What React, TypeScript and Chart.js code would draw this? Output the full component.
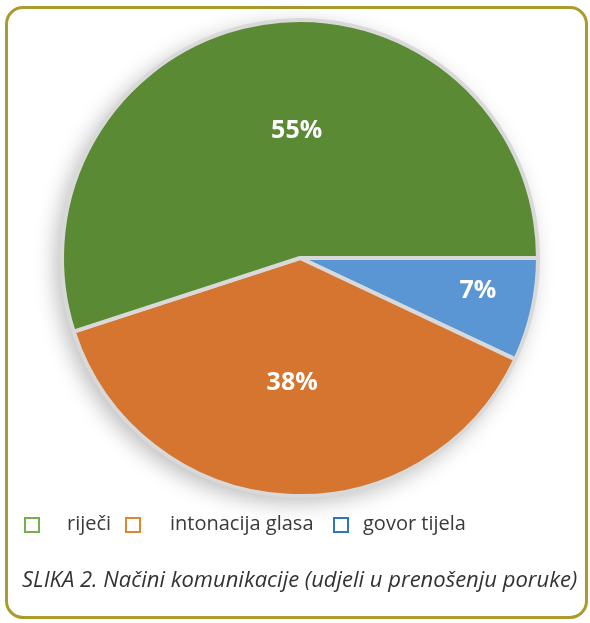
import React, { useEffect, useRef } from 'react';
import { Chart, registerables } from 'chart.js';

Chart.register(...registerables);

// Slices in clockwise order, starting at 3 o'clock
const categories = ['govor tijela', 'intonacija glasa', 'riječi'];
const shares = [7, 38, 55];
const sliceColors = ['#5b96d4', '#d5752f', '#5a8a34'];

// Legend order as shown in the figure
const legendLabels = ['riječi', 'intonacija glasa', 'govor tijela'];
const legendColors = ['#74b04a', '#e0862e', '#2f78b8'];

const caption = 'SLIKA 2. Načini komunikacije (udjeli u prenošenju poruke)';

// label placement: radial fraction and angular nudge (deg), per slice
const labelFrac = [0.76, 0.525, 0.535];
const labelNudge = [-2, 0, 7.5];

const shadowPlugin = {
  id: 'pieShadow',
  beforeDatasetsDraw(chart: any) {
    const meta = chart.getDatasetMeta(0);
    const a = meta.data[0];
    if (!a) return;
    const { x, y, outerRadius } = a.getProps(['x', 'y', 'outerRadius'], true);
    const ctx = chart.ctx;
    ctx.save();
    ctx.shadowColor = 'rgba(0,0,0,0.28)';
    ctx.shadowBlur = 22;
    ctx.shadowOffsetX = -6;
    ctx.shadowOffsetY = 6;
    ctx.fillStyle = '#d8d8d8';
    ctx.beginPath();
    ctx.arc(x, y, outerRadius, 0, Math.PI * 2);
    ctx.fill();
    ctx.restore();
  },
};

const labelPlugin = {
  id: 'sliceLabels',
  afterDatasetsDraw(chart: any) {
    const meta = chart.getDatasetMeta(0);
    const ctx = chart.ctx;
    const values = chart.data.datasets[0].data as number[];
    const total = values.reduce((s, v) => s + v, 0);
    ctx.save();
    ctx.fillStyle = '#ffffff';
    ctx.font = 'bold 25px "Open Sans"';
    ctx.textAlign = 'center';
    ctx.textBaseline = 'middle';
    meta.data.forEach((arc: any, i: number) => {
      const { x, y, startAngle, endAngle, outerRadius } = arc.getProps(
        ['x', 'y', 'startAngle', 'endAngle', 'outerRadius'],
        true
      );
      const mid = (startAngle + endAngle) / 2 + (labelNudge[i] * Math.PI) / 180;
      const r = outerRadius * labelFrac[i];
      const pct = Math.round((values[i] / total) * 100) + '%';
      ctx.fillText(pct, x + Math.cos(mid) * r, y + Math.sin(mid) * r);
    });
    ctx.restore();
  },
};

export default function App() {
  const canvasRef = useRef<HTMLCanvasElement | null>(null);

  useEffect(() => {
    if (!canvasRef.current) return;
    const chart = new Chart(canvasRef.current, {
      type: 'pie',
      data: {
        labels: categories,
        datasets: [
          {
            data: shares,
            backgroundColor: sliceColors,
            borderColor: '#d9d9d9',
            borderWidth: 4,
            hoverOffset: 0,
          },
        ],
      },
      options: {
        responsive: false,
        animation: false,
        devicePixelRatio: 1,
        rotation: 90,
        radius: 238,
        layout: { padding: { left: 10, right: 0, top: 0, bottom: 107 } },
        plugins: {
          legend: { display: false },
          tooltip: { enabled: false },
          title: { display: false },
        },
        events: [],
      },
      plugins: [shadowPlugin, labelPlugin],
    });
    return () => chart.destroy();
  }, []);

  const textStyle: React.CSSProperties = {
    position: 'absolute',
    fontFamily: '"Open Sans", sans-serif',
    fontSize: 20,
    lineHeight: '20px',
    color: '#3a3a3a',
    whiteSpace: 'nowrap',
  };
  const boxStyle = (c: string, left: number): React.CSSProperties => ({
    position: 'absolute',
    left,
    top: 517,
    width: 16,
    height: 16,
    boxSizing: 'border-box',
    border: `2px solid ${c}`,
    background: '#ffffff',
  });

  return (
    <div style={{ position: 'absolute', left: 0, top: 0, width: 590, height: 623, background: '#ffffff', overflow: 'hidden' }}>
      <div
        style={{
          position: 'absolute',
          left: 5,
          top: 6,
          width: 583,
          height: 613,
          boxSizing: 'border-box',
          border: '3px solid #ab9a2c',
          borderRadius: 18,
        }}
      />
      <canvas ref={canvasRef} width={590} height={623} style={{ position: 'absolute', left: 0, top: 0, width: 590, height: 623 }} />
      <div style={boxStyle(legendColors[0], 24)} />
      <div style={{ ...textStyle, left: 67, top: 513 }}>{legendLabels[0]}</div>
      <div style={boxStyle(legendColors[1], 125)} />
      <div style={{ ...textStyle, left: 170, top: 513 }}>{legendLabels[1]}</div>
      <div style={boxStyle(legendColors[2], 333)} />
      <div style={{ ...textStyle, left: 363, top: 513 }}>{legendLabels[2]}</div>
      <div style={{ ...textStyle, left: 22, top: 567, fontSize: 22, lineHeight: '22px', fontStyle: 'italic', color: '#333333' }}>{caption}</div>
    </div>
  );
}
